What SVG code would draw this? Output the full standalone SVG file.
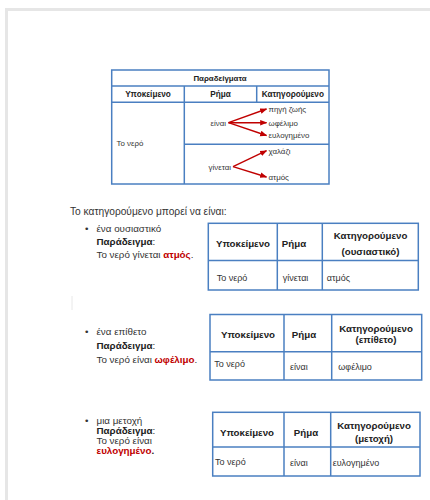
<svg xmlns="http://www.w3.org/2000/svg" width="430" height="500" viewBox="0 0 430 500">
<defs>
<style>
.tb{fill:none;stroke:#4a7fc1;stroke-width:1.5}
.ln{stroke:#4a7fc1;stroke-width:1.5}
.t{font-family:"Liberation Sans",Arial,sans-serif;fill:#333}
.s8{font-size:7.9px}
.h8{font-size:8.2px}
.s9{font-size:9px}
.p9{font-size:10.2px}
.p10{font-size:9.8px}
.h9{font-size:9.7px}
.b{font-weight:bold;fill:#222}
.red{fill:#c00000;font-weight:bold}
.arr{stroke:#c00000;stroke-width:1.4;fill:none}
</style>
<marker id="ah" viewBox="0 0 10 10" refX="9" refY="5" markerWidth="5" markerHeight="5" orient="auto">
<path d="M0,1 L10,5 L0,9 z" fill="#c00000"/>
</marker>
</defs>
<rect x="0" y="0" width="430" height="500" fill="#fff"/>
<rect x="5" y="8" width="425" height="3" fill="#e6e6e6"/>
<rect x="5" y="8" width="3" height="492" fill="#e6e6e6"/>
<line x1="72" y1="296" x2="72" y2="310" stroke="#e8e8e8" stroke-width="1"/>

<g id="examples-table">
<rect class="tb" x="111.7" y="70" width="217.3" height="114"/>
<line class="ln" x1="111.7" y1="86" x2="329" y2="86"/>
<line class="ln" x1="111.7" y1="102.3" x2="329" y2="102.3"/>
<line class="ln" x1="184.3" y1="86" x2="184.3" y2="184"/>
<line class="ln" x1="256.7" y1="86" x2="256.7" y2="102.3"/>
<line class="ln" x1="184.3" y1="144.3" x2="329" y2="144.3"/>
<text class="t s8 b" x="220" y="81" text-anchor="middle">Παραδείγματα</text>
<text class="t h8 b" x="148" y="97" text-anchor="middle">Υποκείμενο</text>
<text class="t h8 b" x="220.5" y="97" text-anchor="middle">Ρήμα</text>
<text class="t h8 b" x="292.8" y="97" text-anchor="middle">Κατηγορούμενο</text>
<text class="t s8" x="116.5" y="146">Το νερό</text>
<text class="t s8" x="226" y="125.5" text-anchor="end">είναι</text>
<text class="t s8" x="268.5" y="112">πηγή ζωής</text>
<text class="t s8" x="268.5" y="125.5">ωφέλιμο</text>
<text class="t s8" x="268.5" y="138">ευλογημένο</text>
<text class="t s8" x="231" y="169.5" text-anchor="end">γίνεται</text>
<text class="t s8" x="268.5" y="154">χαλάζι</text>
<text class="t s8" x="268.5" y="179.5">ατμός</text>
</g>

<g id="connectors">
<line class="arr" x1="228.5" y1="122.7" x2="266.5" y2="109" marker-end="url(#ah)"/>
<line class="arr" x1="228.5" y1="122.7" x2="266.5" y2="122.7" marker-end="url(#ah)"/>
<line class="arr" x1="228.5" y1="122.7" x2="266.5" y2="135.5" marker-end="url(#ah)"/>
<line class="arr" x1="233" y1="166.7" x2="266.5" y2="150.7" marker-end="url(#ah)"/>
<line class="arr" x1="233" y1="166.7" x2="266.5" y2="177" marker-end="url(#ah)"/>
</g>

<g id="intro">
<text class="t p9" x="70" y="214.7">Το κατηγορούμενο μπορεί να είναι:</text>
</g>

<g id="noun-text">
<text class="t p10" x="85" y="231.5">•</text>
<text class="t p10" x="96.5" y="231.5">ένα ουσιαστικό</text>
<text class="t p10" x="96.5" y="244.5"><tspan class="b">Παράδειγμα</tspan>:</text>
<text class="t p10" x="96.5" y="257.5">Το νερό γίνεται <tspan class="red">ατμός</tspan>.</text>
</g>
<g id="noun-table">
<rect class="tb" x="208.3" y="223.3" width="210" height="66.7"/>
<line class="ln" x1="208.3" y1="260.5" x2="418.3" y2="260.5"/>
<line class="ln" x1="277.3" y1="223.3" x2="277.3" y2="290"/>
<line class="ln" x1="322.3" y1="223.3" x2="322.3" y2="290"/>
<text class="t h9 b" x="243" y="246.8" text-anchor="middle">Υποκείμενο</text>
<text class="t h9 b" x="294" y="246.8" text-anchor="middle">Ρήμα</text>
<text class="t h9 b" x="370.5" y="239.3" text-anchor="middle">Κατηγορούμενο</text>
<text class="t h9 b" x="370.5" y="255" text-anchor="middle">(ουσιαστικό)</text>
<text class="t s9" x="216.7" y="280.5">Το νερό</text>
<text class="t s9" x="282.7" y="280.5">γίνεται</text>
<text class="t s9" x="326.7" y="280.5">ατμός</text>
</g>

<g id="adjective-text">
<text class="t p10" x="85" y="334.5">•</text>
<text class="t p10" x="96.5" y="334.5">ένα επίθετο</text>
<text class="t p10" x="96.5" y="348.5"><tspan class="b">Παράδειγμα</tspan>:</text>
<text class="t p10" x="96.5" y="362.5">Το νερό είναι <tspan class="red">ωφέλιμο</tspan>.</text>
</g>
<g id="adjective-table">
<rect class="tb" x="210" y="314.5" width="211.7" height="65.5"/>
<line class="ln" x1="210" y1="351.7" x2="421.7" y2="351.7"/>
<line class="ln" x1="284" y1="314.5" x2="284" y2="380"/>
<line class="ln" x1="331.7" y1="314.5" x2="331.7" y2="380"/>
<text class="t h9 b" x="248" y="338.3" text-anchor="middle">Υποκείμενο</text>
<text class="t h9 b" x="304" y="338.3" text-anchor="middle">Ρήμα</text>
<text class="t h9 b" x="376" y="331.6" text-anchor="middle">Κατηγορούμενο</text>
<text class="t h9 b" x="376" y="343.3" text-anchor="middle">(επίθετο)</text>
<text class="t s9" x="214.3" y="367.3">Το νερό</text>
<text class="t s9" x="290" y="369.7">είναι</text>
<text class="t s9" x="338.3" y="369.7">ωφέλιμο</text>
</g>

<g id="participle-text">
<text class="t p10" x="85" y="423.5">•</text>
<text class="t p10" x="96.5" y="423.5">μια μετοχή</text>
<text class="t p10" x="96.5" y="434"><tspan class="b">Παράδειγμα</tspan>:</text>
<text class="t p10" x="96.5" y="443.5">Το νερό είναι</text>
<text class="t p10" x="96.5" y="453.5"><tspan class="red">ευλογημένο</tspan><tspan class="b">.</tspan></text>
</g>
<g id="participle-table">
<rect class="tb" x="212.7" y="412.3" width="207.3" height="63.7"/>
<line class="ln" x1="212.7" y1="447" x2="420" y2="447"/>
<line class="ln" x1="284" y1="412.3" x2="284" y2="476"/>
<line class="ln" x1="330.7" y1="412.3" x2="330.7" y2="476"/>
<text class="t h9 b" x="247" y="435.6" text-anchor="middle">Υποκείμενο</text>
<text class="t h9 b" x="306" y="435.6" text-anchor="middle">Ρήμα</text>
<text class="t h9 b" x="374" y="429.3" text-anchor="middle">Κατηγορούμενο</text>
<text class="t h9 b" x="374" y="441.6" text-anchor="middle">(μετοχή)</text>
<text class="t s9" x="215" y="464.7">Το νερό</text>
<text class="t s9" x="290" y="466.3">είναι</text>
<text class="t s9" x="332.7" y="466.3">ευλογημένο</text>
</g>
</svg>
